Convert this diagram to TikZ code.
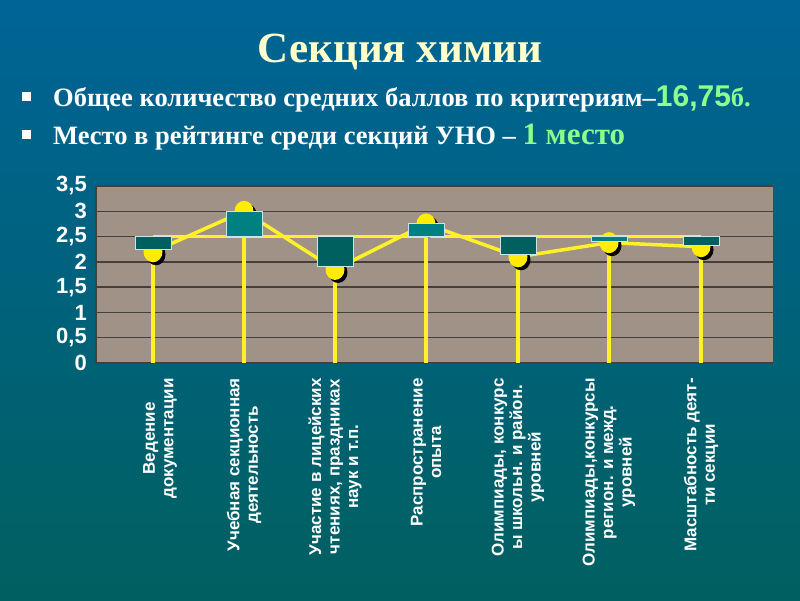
\documentclass[tikz,border=0pt]{standalone}
\usepackage{fontspec}
\setmainfont{Liberation Serif}
\setsansfont{Liberation Sans}
\definecolor{topc}{RGB}{0,100,150}
\definecolor{botc}{RGB}{0,96,96}
\definecolor{grn}{RGB}{140,255,140}
\definecolor{ttl}{RGB}{255,255,204}
\definecolor{plotc}{RGB}{160,146,134}
\definecolor{gridc}{RGB}{70,64,60}
\definecolor{yel}{RGB}{255,240,40}
\definecolor{yeld}{RGB}{255,236,0}
\definecolor{upc}{RGB}{0,128,128}
\definecolor{dnc}{RGB}{0,96,96}
\definecolor{edgec}{RGB}{200,230,230}
\begin{document}
\begin{tikzpicture}[x=1pt,y=-1pt,
  declare function={vy(\v)=363-50.57*\v;},
  ylab/.style={anchor=east,font=\sffamily\bfseries\fontsize{22}{22}\selectfont,text=white,inner sep=0},
  clab/.style={anchor=east,rotate=90,align=center,font=\sffamily\bfseries\fontsize{17}{18.5}\selectfont,text=white,inner sep=0},
  drop/.style={draw=yel,line width=3.5pt},
  dot/.style={fill=yeld},
  upbox/.style={fill=upc,draw=edgec,line width=1pt},
  dnbox/.style={fill=dnc,draw=edgec,line width=1pt}]
\useasboundingbox (0,0) rectangle (800,600);
\shade[top color=topc,bottom color=botc] (0,0) rectangle (800,600);
% title
\node[text=ttl,font=\bfseries\fontsize{43}{43}\selectfont] (title) at (400,52) {Секция химии};
\fill[white] (22,92) rectangle (31,101);
\fill[white] (22,130) rectangle (31,139);
\node[anchor=base west,text=white,inner sep=0,font=\bfseries\fontsize{26.5}{26.5}\selectfont] (b1) at (53,106) {Общее количество средних баллов по критериям–\textcolor{grn}{\sffamily\fontsize{30}{30}\selectfont 16,75}\textcolor{grn}{б.}};
\node[anchor=base west,text=white,inner sep=0,font=\bfseries\fontsize{26.5}{26.5}\selectfont] (b2) at (53,144) {Место в рейтинге среди секций УНО – \textcolor{grn}{\fontsize{31}{31}\selectfont 1 место}};
% plot area
\fill[plotc] (96,186) rectangle (773,363);
\foreach \v in {0.5,1,...,3.5}
  \draw[gridc,line width=1.5pt] (96,{vy(\v)}) -- (773,{vy(\v)});
\draw[gridc,line width=1.2pt] (96,186) -- (96,363) -- (773,363);
\foreach \v/\t in {0/0,0.5/{0,5},1/1,1.5/{1,5},2/2,2.5/{2,5},3/3,3.5/{3,5}}
  \node[ylab] at (87,{vy(\v)}) {\t};
% drop lines
\foreach \x/\v in {153/2.2,244/3.0,335/1.85,426/2.75,518/2.1,609/2.38,701/2.3}
  \draw[drop] (\x,{vy(\v)}) -- (\x,363);
% average line and data line
\draw[drop] (153,{vy(2.5)}) -- (701,{vy(2.5)});
\draw[drop,line join=round] (153,{vy(2.2)}) -- (244,{vy(3.0)}) -- (335,{vy(1.85)}) -- (426,{vy(2.75)}) -- (518,{vy(2.1)}) -- (609,{vy(2.38)}) -- (701,{vy(2.3)});
% dots
\foreach \x/\v in {153/2.2,244/3.0,335/1.85,426/2.75,518/2.1,609/2.38,701/2.3}{
  \fill[black] (\x+3,{vy(\v)+3}) ellipse (9.5 and 10.5);
  \fill[dot] (\x,{vy(\v)}) ellipse (9.5 and 10.5);}
% boxes
\draw[dnbox] (135,{vy(2.5)}) rectangle (171,{vy(2.25)});
\draw[upbox] (226,{vy(2.5)}) rectangle (262,{vy(3.0)});
\draw[dnbox] (317,{vy(2.5)}) rectangle (353,{vy(1.9)});
\draw[upbox] (408,{vy(2.5)}) rectangle (444,{vy(2.75)});
\draw[dnbox] (500,{vy(2.5)}) rectangle (536,{vy(2.15)});
\draw[upbox] (591,{vy(2.5)}) rectangle (627,{vy(2.4)});
\draw[dnbox] (683,{vy(2.5)}) rectangle (719,{vy(2.32)});
% category labels
\node[clab] (c1) at (160,378) {Ведение\\документации};
\node[clab] (c2) at (244,378) {Учебная секционная\\деятельность};
\node[clab] (c3) at (335,378) {Участие в лицейских\\чтениях, праздниках\\наук и т.п.};
\node[clab] (c4) at (426,378) {Распространение\\опыта};
\node[clab] (c5) at (518,378) {Олимпиады, конкурс\\ы школьн. и район.\\уровней};
\node[clab] (c6) at (609,378) {Олимпиады,конкурсы\\регион. и межд.\\уровней};
\node[clab] (c7) at (701,378) {Масштабность деят-\\ти секции};
\end{tikzpicture}
\end{document}
